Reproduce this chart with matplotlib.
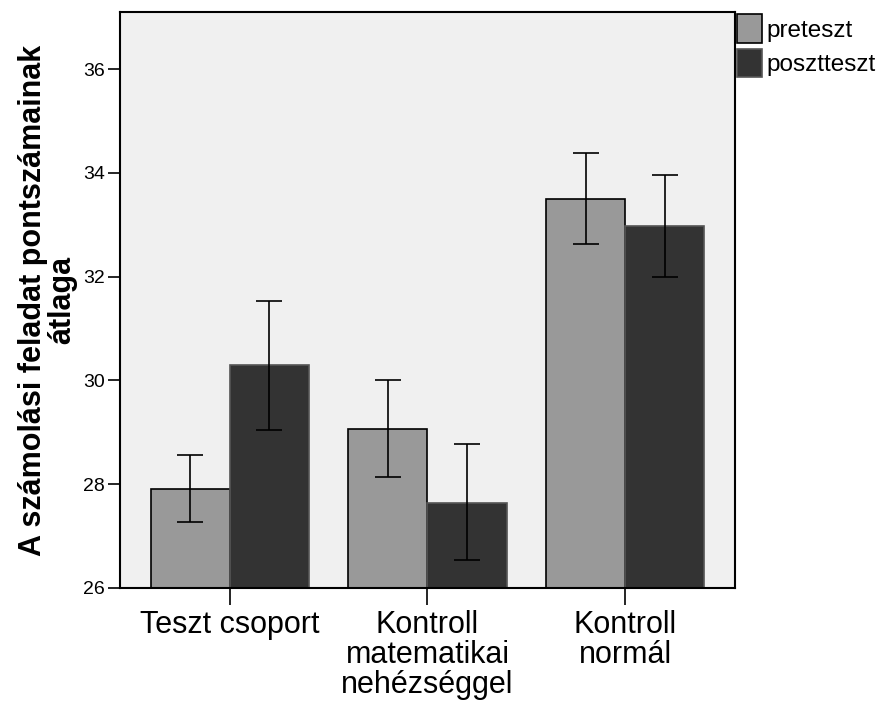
import matplotlib.pyplot as plt
import numpy as np

plt.rcParams['font.family'] = ['Liberation Sans', 'DejaVu Sans']

groups = ['Teszt csoport', 'Kontroll\nmatematikai\nnehézséggel', 'Kontroll\nnormál']
pre_mean = [27.91, 29.07, 33.49]
pre_low = [27.27, 28.14, 32.62]
pre_high = [28.57, 30.00, 34.38]
post_mean = [30.29, 27.64, 32.97]
post_low = [29.05, 26.54, 32.00]
post_high = [31.54, 28.78, 33.95]

x = np.arange(len(groups))
width = 0.4

fig = plt.figure(figsize=(8.78, 7.04), dpi=100)
ax = fig.add_axes([120 / 878, 1 - 588 / 704, 615 / 878, 576 / 704])
ax.set_facecolor('#f0f0f0')

pre_err = [np.array(pre_mean) - np.array(pre_low), np.array(pre_high) - np.array(pre_mean)]
post_err = [np.array(post_mean) - np.array(post_low), np.array(post_high) - np.array(post_mean)]

ax.bar(x - width / 2, np.array(pre_mean) - 26, width, bottom=26, color='#999999',
       edgecolor='black', linewidth=1.2, label='preteszt', zorder=2)
ax.bar(x + width / 2, np.array(post_mean) - 26, width, bottom=26, color='#333333',
       edgecolor='#555555', linewidth=1.2, label='posztteszt', zorder=2)
ax.errorbar(x - width / 2, pre_mean, yerr=pre_err, fmt='none', ecolor='black',
            elinewidth=1.2, capsize=9.5, capthick=1.2, zorder=3)
ax.errorbar(x + width / 2, post_mean, yerr=post_err, fmt='none', ecolor='black',
            elinewidth=1.2, capsize=9.5, capthick=1.2, zorder=3)

ax.set_xlim(-0.555, 2.555)
ax.set_ylim(26, 37.1)
ax.set_yticks([26, 28, 30, 32, 34, 36])
ax.set_xticks(x)
ax.set_xticklabels(groups, fontsize=22, linespacing=1.0)
ax.tick_params(axis='y', labelsize=14, length=9, width=1.2, pad=2)
ax.tick_params(axis='x', length=12, width=1.2, pad=4)
for s in ax.spines.values():
    s.set_linewidth(1.5)

ax.set_ylabel('A számolási feladat pontszámainak\nátlaga', fontsize=22,
              fontweight='bold', linespacing=0.95, labelpad=4)

ax.legend(loc='upper left', bbox_to_anchor=(1.0, 1.0), frameon=False, fontsize=17.5,
          handlelength=1.0, handleheight=1.4, handletextpad=0.2, labelspacing=0.25,
          borderaxespad=0.0, borderpad=0.1)

fig.savefig('out.png', dpi=100)
